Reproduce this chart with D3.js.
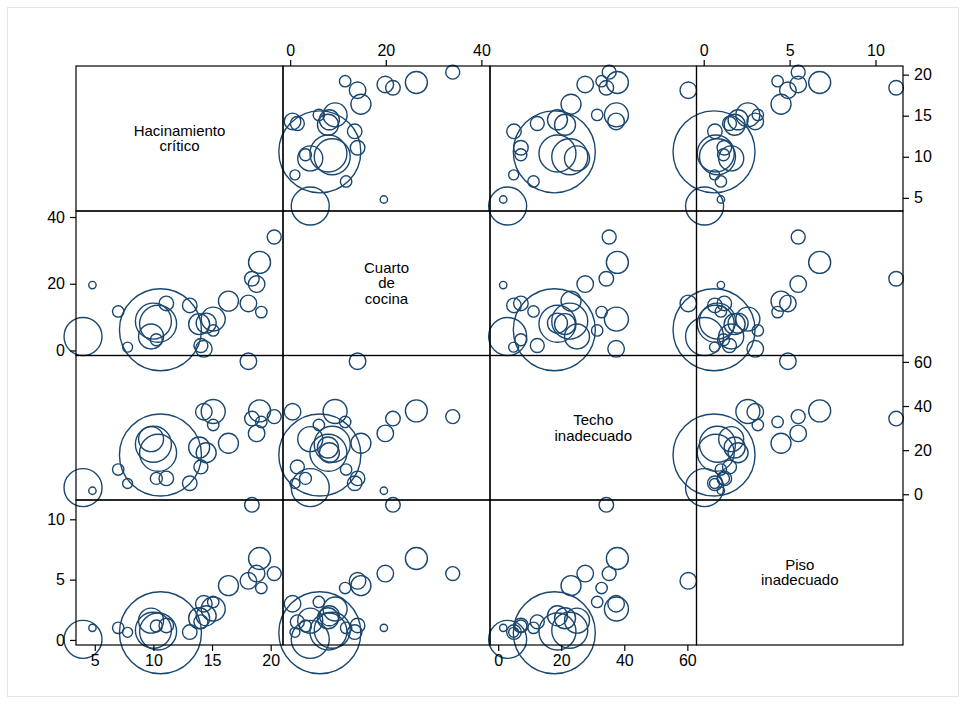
<!DOCTYPE html>
<html>
<head>
<meta charset="utf-8">
<script src="https://cdn.jsdelivr.net/npm/d3@7"></script>
<style>
  html, body { margin: 0; padding: 0; background: #ffffff; }
  svg { display: block; }
  text { font-family: "Liberation Sans", Arial, sans-serif; fill: #000; }
</style>
</head>
<body>
<svg id="chart" width="966" height="704"></svg>
<script>
// ---- Data ----
const variableLabels = [["Hacinamiento", "crítico"], ["Cuarto", "de", "cocina"], ["Techo", "inadecuado"], ["Piso", "inadecuado"]];
const hacinamiento = [10.6, 4.0, 10.4, 10.0, 9.8, 10.25, 15.1, 15.1, 14.3, 14.05, 13.1, 11.1, 7.0, 7.8, 4.8, 19.2, 18.1, 16.4, 18.8, 18.4, 19.05, 20.3, 13.9, 14.5];
const cuartoCocina = [6.2, 4.2, 8.0, 8.8, 4.2, 3.2, 9.4, 6.0, 0.5, 1.5, 13.5, 14.1, 11.7, 1.0, 19.6, 11.5, 14.1, 14.8, 19.9, 21.5, 26.4, 34.0, 7.9, 8.2];
const techo = [17.8, 3.0, 18.8, 22.7, 25.0, 7.2, 37.5, 31.4, 37.4, 12.4, 5.0, 7.2, 11.2, 4.9, 1.6, 32.8, 60.3, 23.1, 27.6, 34.3, 37.8, 35.2, 21.2, 18.8];
const piso = [0.6, 0.05, 0.7, 0.8, 1.6, 1.15, 2.57, 3.15, 3.0, 1.5, 0.65, 1.2, 1.0, 0.63, 1.0, 4.3, 4.9, 4.5, 5.5, 11.2, 6.75, 5.5, 1.8, 2.0];
const peso = [13800, 2964, 2810, 2660, 1283, 296, 1182, 267, 563, 400, 435, 435, 267, 205, 112, 267, 563, 821, 563, 435, 993, 400, 905, 821];

const ticksH = [5, 10, 15, 20];
const ticksC = [0, 20, 40];
const ticksT = [0, 20, 40, 60];
const ticksP = [0, 5, 10];

// ---- Layout ----
const svg = d3.select("#chart");
const colX = [76, 283, 490, 696.5, 903];
const rowY = [66, 211, 355.5, 500, 645];
const navy = "#1a476f";

const series = [hacinamiento, cuartoCocina, techo, piso];
const domains = [[3.4, 21.05], [-1.5, 41.8], [-2.6, 62.9], [-0.42, 11.6]];
const tickSets = [ticksH, ticksC, ticksT, ticksP];

const xScales = series.map((s, j) => d3.scaleLinear().domain(domains[j]).range([colX[j], colX[j + 1]]));
const yScales = series.map((s, i) => d3.scaleLinear().domain(domains[i]).range([rowY[i + 1], rowY[i]]));
const rScale = d3.scaleSqrt().domain([0, d3.max(peso)]).range([0, 41]);

// outer light frame of the graph region
svg.append("rect").attr("x", 7.5).attr("y", 7.5).attr("width", 951).attr("height", 689)
  .attr("fill", "none").attr("stroke", "#e6e6e6").attr("stroke-width", 1);

const n = hacinamiento.length;
const idx = d3.range(n);

for (let i = 0; i < 4; i++) {
  for (let j = 0; j < 4; j++) {
    const g = svg.append("g");
    if (i === j) {
      const lines = variableLabels[i];
      const cx = (colX[j] + colX[j + 1]) / 2;
      const cy = (rowY[i] + rowY[i + 1]) / 2;
      const lh = 15.5;
      const t = g.append("text").attr("text-anchor", "middle").attr("font-size", 15);
      lines.forEach((ln, k) => {
        t.append("tspan").attr("x", cx)
          .attr("y", cy + (k - (lines.length - 1) / 2) * lh + 5)
          .text(ln);
      });
    } else {
      g.selectAll("circle").data(idx).join("circle")
        .attr("cx", d => xScales[j](series[j][d]))
        .attr("cy", d => yScales[i](series[i][d]))
        .attr("r", d => rScale(peso[d]))
        .attr("fill", "none")
        .attr("stroke", navy)
        .attr("stroke-width", 1.4);
    }
  }
}

// cell frames
for (let i = 0; i < 4; i++) {
  for (let j = 0; j < 4; j++) {
    svg.append("rect")
      .attr("x", colX[j]).attr("y", rowY[i])
      .attr("width", colX[j + 1] - colX[j]).attr("height", rowY[i + 1] - rowY[i])
      .attr("fill", "none").attr("stroke", "#000").attr("stroke-width", 1.2);
  }
}

// axes
function styleAxis(sel) {
  sel.select(".domain").remove();
  sel.selectAll(".tick line").attr("stroke", "#000").attr("stroke-width", 1.2);
  sel.selectAll(".tick text").attr("font-size", 16).attr("font-family", "'Liberation Sans', Arial, sans-serif").attr("fill", "#000");
}
// bottom axes: columns 0 and 2
[0, 2].forEach(j => {
  svg.append("g").attr("transform", `translate(0,${rowY[4]})`)
    .call(d3.axisBottom(xScales[j]).tickValues(tickSets[j]).tickSize(6).tickPadding(4).tickFormat(d3.format("d")))
    .call(styleAxis);
});
// top axes: columns 1 and 3
[1, 3].forEach(j => {
  svg.append("g").attr("transform", `translate(0,${rowY[0]})`)
    .call(d3.axisTop(xScales[j]).tickValues(tickSets[j]).tickSize(6).tickPadding(4).tickFormat(d3.format("d")))
    .call(styleAxis);
});
// right axes: rows 0 and 2
[0, 2].forEach(i => {
  svg.append("g").attr("transform", `translate(${colX[4]},0)`)
    .call(d3.axisRight(yScales[i]).tickValues(tickSets[i]).tickSize(6).tickPadding(5).tickFormat(d3.format("d")))
    .call(styleAxis);
});
// left axes: rows 1 and 3
[1, 3].forEach(i => {
  svg.append("g").attr("transform", `translate(${colX[0]},0)`)
    .call(d3.axisLeft(yScales[i]).tickValues(tickSets[i]).tickSize(6).tickPadding(5).tickFormat(d3.format("d")))
    .call(styleAxis);
});
</script>
</body>
</html>
